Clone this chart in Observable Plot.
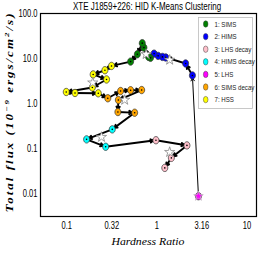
<!DOCTYPE html>
<html><head><meta charset="utf-8">
<script src="https://cdn.jsdelivr.net/npm/d3@7"></script>
<script src="https://cdn.jsdelivr.net/npm/@observablehq/plot@0.6"></script>
<style>body{margin:0;background:#fff} svg{display:block}</style>
</head><body><div id="chart"></div>
<script>
const title = "XTE J1859+226: HID K-Means Clustering";
const clusterIds = [1, 2, 3, 4, 5, 6, 7];
const clusterNames = ["1: SIMS", "2: HIMS", "3: LHS decay", "4: HIMS decay", "5: LHS", "6: SIMS decay", "7: HSS"];
const clusterColors = ["#008000", "#0000ff", "#ffc0cb", "#00ffff", "#ff00ff", "#ffa500", "#ffff00"];

const hardness = [2.86, 2.45, 2.06, 1.24, 1.14, 1.02, 0.92, 0.84, 0.80, 0.71, 0.68, 0.60, 0.505,
  0.31, 0.262, 0.194, 0.273, 0.19, 0.0975, 0.122, 0.221,
  0.282, 0.391, 0.505, 0.67, 0.369, 0.365, 0.56,
  0.316, 0.164, 0.267, 0.965, 2.13, 1.43, 1.21];
const flux = [0.0089, 4.23, 7.8, 10.6, 10.9, 11.5, 12.9, 10.4, 10.9, 17.5, 22.0, 12.5, 8.58,
  6.88, 5.52, 4.46, 3.45, 2.29, 1.82, 1.73, 1.70,
  1.32, 1.91, 1.99, 2.01, 1.21, 0.654, 0.631,
  0.27, 0.162, 0.111, 0.155, 0.119, 0.063, 0.0378];
const cluster = [5, 2, 2, 2, 2, 2, 2, 1, 1, 1, 1, 1, 1,
  7, 7, 7, 7, 7, 7, 7, 7,
  6, 6, 6, 6, 6, 6, 6,
  4, 4, 4, 3, 3, 3, 3];

const centroidHardness = [0.751, 1.37, 1.37, 0.24, 2.86, 0.434, 0.192];
const centroidFlux = [12.5, 9.35, 0.0845, 0.182, 0.0089, 1.21, 2.93];
const centroidCluster = [1, 2, 3, 4, 5, 6, 7];

const xTickValues = [0.1, 0.316, 1, 3.16, 10];
const xTickLabels = ["0.1", "0.32", "1", "3.16", "10"];
const yTickValues = [0.01, 0.1, 1, 10, 100];
const yTickLabels = ["0.01", "0.1", "1.0", "10.0", "100.0"];
const xLabel = "Hardness Ratio";

const points = hardness.map((h, i) => ({x: h, y: flux[i], c: cluster[i]}));
const segments = points.slice(1).map((p, i) => ({x1: points[i].x, y1: points[i].y, x2: p.x, y2: p.y}));
const centroids = centroidHardness.map((h, i) => ({x: h, y: centroidFlux[i], c: centroidCluster[i]}));
const counts = d3.rollup(points, v => v.length, d => d.c);

const ellipse = {draw(ctx, size) {
  const r = Math.sqrt(size / Math.PI), rx = r * 0.82, ry = r, k = 0.5523;
  ctx.moveTo(rx, 0);
  ctx.bezierCurveTo(rx, k * ry, k * rx, ry, 0, ry);
  ctx.bezierCurveTo(-k * rx, ry, -rx, k * ry, -rx, 0);
  ctx.bezierCurveTo(-rx, -k * ry, -k * rx, -ry, 0, -ry);
  ctx.bezierCurveTo(k * rx, -ry, rx, -k * ry, rx, 0);
  ctx.closePath();
}};

const sansFont = "'Liberation Sans Narrow','Arial Narrow','Liberation Sans',sans-serif";
const xTicks = xTickValues.map((v, i) => ({v, label: xTickLabels[i]}));
const yTicks = yTickValues.map((v, i) => ({v, label: yTickLabels[i]}));

const chart = Plot.plot({
  width: 269, height: 255,
  marginLeft: 40, marginRight: 13, marginTop: 13, marginBottom: 39,
  style: {fontFamily: sansFont, fontSize: "10.5px", color: "black", background: "white"},
  x: {type: "log", domain: [0.0505, 12.6], label: null, axis: null},
  y: {type: "log", domain: [0.00316, 100], label: null, axis: null},
  color: {domain: clusterIds, range: clusterColors},
  marks: [
    Plot.arrow(segments, {x1: "x1", y1: "y1", x2: "x2", y2: "y2", stroke: "black",
      strokeWidth: d => Math.hypot(Math.log10(d.x2 / d.x1), Math.log10(d.y2 / d.y1) / 2) > 1 ? 1 : 1.9,
      headLength: 5, insetEnd: 2.5}),
    Plot.dot(points, {x: "x", y: "y", fill: "c", symbol: ellipse, r: 3.7, stroke: "#333", strokeWidth: 0.7}),
    Plot.dot(points, {x: "x", y: "y", r: 0.8, fill: "black"}),
    Plot.dot(centroids.filter(d => counts.get(d.c) > 1), {x: "x", y: "y", symbol: "star", r: 3.2, fill: "white", stroke: "#888", strokeWidth: 0.8}),
    Plot.dot(centroids.filter(d => counts.get(d.c) === 1), {x: "x", y: "y", symbol: "star", r: 3, fill: "c", stroke: "#bbb", strokeWidth: 0.8}),
    Plot.frame({stroke: "black", strokeWidth: 1.2})
  ]
});
document.getElementById("chart").appendChild(chart);

const svg = d3.select(chart);
const sx = chart.scale("x"), sy = chart.scale("y");

// tick labels drawn from the plot's own scales, condensed horizontally like the reference
svg.append("g").selectAll("text").data(xTicks).join("text")
  .attr("transform", d => `translate(${sx.apply(d.v)},225) scale(0.72,1)`)
  .attr("text-anchor", "middle").attr("dy", "0.35em")
  .style("font-family", sansFont).style("font-size", "10.5px").attr("fill", "black").text(d => d.label);
svg.append("g").selectAll("text").data(yTicks).join("text")
  .attr("transform", d => `translate(37.5,${sy.apply(d.v)}) scale(0.72,1)`)
  .attr("text-anchor", "end").attr("dy", "0.35em")
  .style("font-family", sansFont).style("font-size", "10.5px").attr("fill", "black").text(d => d.label);

svg.append("text").attr("transform", "translate(147,9.5) scale(0.8,1)").attr("text-anchor", "middle")
  .style("font-family", sansFont).style("font-size", "10px").attr("fill", "black").text(title);

svg.append("text").attr("x", 148).attr("y", 245).attr("text-anchor", "middle")
  .style("font-family", "'Liberation Serif',serif").style("font-style", "italic")
  .style("font-size", "11px").attr("fill", "black").attr("textLength", 73).attr("lengthAdjust", "spacingAndGlyphs")
  .text(xLabel);

const yl = svg.append("text").attr("transform", "translate(13,112) scale(0.75,1) rotate(-90)").attr("text-anchor", "middle")
  .style("font-family", "'Liberation Serif',serif").style("font-style", "italic").style("font-weight", "bold")
  .style("font-size", "13px").style("letter-spacing", "2px").attr("fill", "black");
yl.append("tspan").text("Total flux (10");
yl.append("tspan").attr("dy", -5).style("font-size", "9px").text("\u22129");
yl.append("tspan").attr("dy", 5).text(" ergs/cm");
yl.append("tspan").attr("dy", -5).style("font-size", "9px").text("2");
yl.append("tspan").attr("dy", 5).text("/s)");

const lg = svg.append("g").attr("text-anchor", "start");
lg.append("rect").attr("x", 198.5).attr("y", 17.5).attr("width", 54).attr("height", 91)
  .attr("fill", "white").attr("stroke", "#bbb").attr("stroke-width", 0.8);
clusterNames.forEach((name, i) => {
  const yy = 24 + i * 12.6;
  lg.append("ellipse").attr("cx", 205.7).attr("cy", yy).attr("rx", 2.3).attr("ry", 3.2)
    .attr("fill", clusterColors[i]).attr("stroke", "#444").attr("stroke-width", 0.5);
  lg.append("text").attr("transform", `translate(214.5,${yy}) scale(0.82,1)`).attr("dy", "0.35em").attr("text-anchor", "start")
    .style("font-family", sansFont).style("font-size", "7.5px").attr("fill", "#222").text(name);
});
</script></body></html>
